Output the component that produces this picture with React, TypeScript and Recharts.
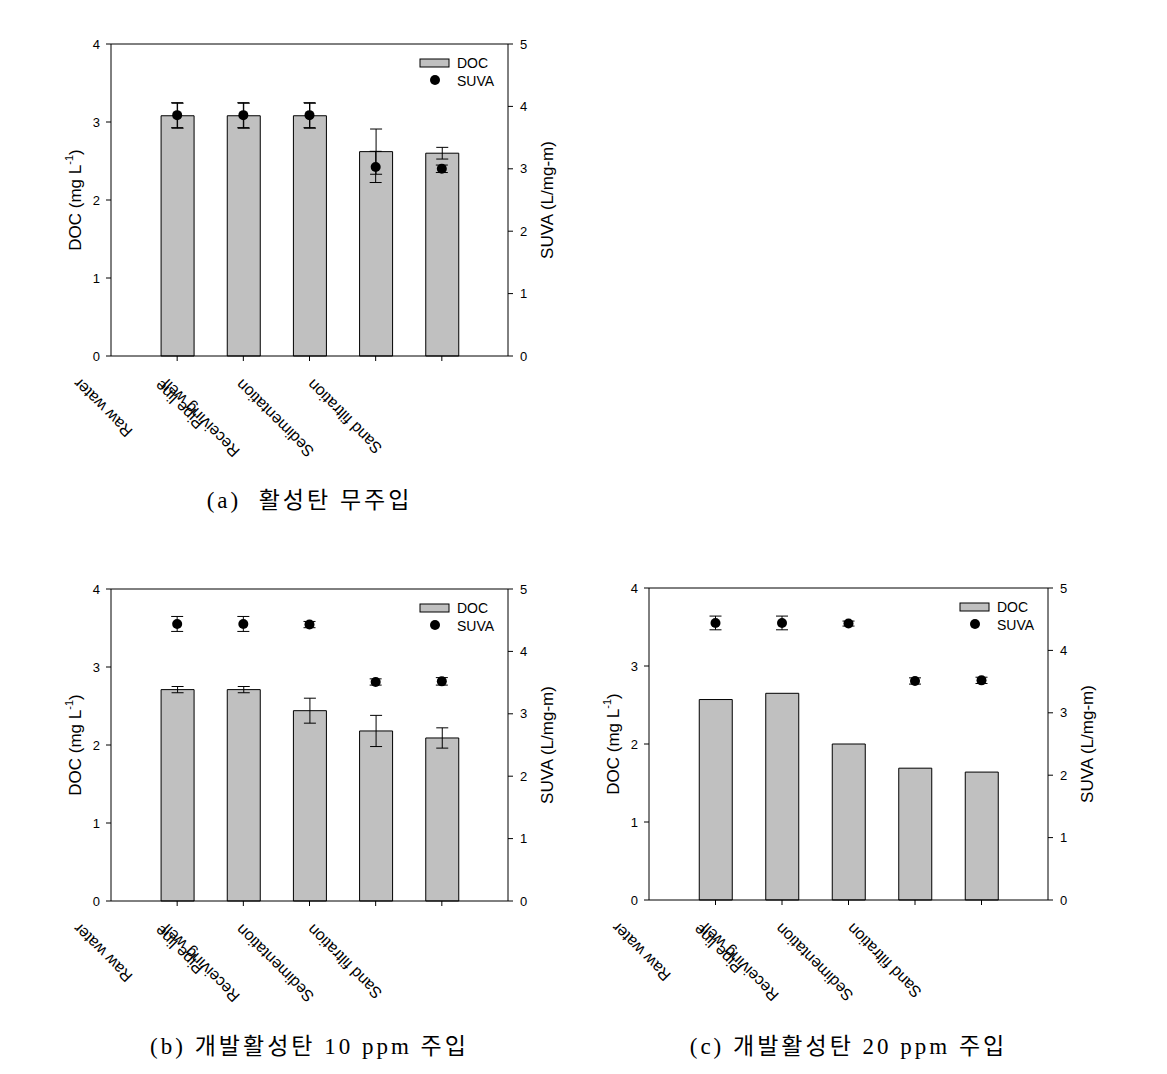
import React from "react";
import { ComposedChart, Bar, Scatter, XAxis, YAxis, ErrorBar, ReferenceLine } from "recharts";

// treatment stages (x categories)
const stages = ["Raw water", "Pipe line", "Receiving well", "Sedimentation", "Sand filtration"];

// (a) no activated carbon
const docA = [3.08, 3.08, 3.08, 2.62, 2.6];
const docErrA = [0.16, 0.16, 0.16, 0.29, 0.075];
const suvaA = [3.86, 3.86, 3.86, 3.03, 3.0];
const suvaErrA = [0.2, 0.2, 0.2, 0.25, 0.06];

// (b) developed carbon 10 ppm
const docB = [2.71, 2.71, 2.44, 2.18, 2.09];
const docErrB = [0.04, 0.04, 0.16, 0.2, 0.13];
const suvaB = [4.44, 4.44, 4.43, 3.51, 3.52];
const suvaErrB = [0.12, 0.12, 0.05, 0.05, 0.06];

// (c) developed carbon 20 ppm
const docC = [2.57, 2.65, 2.0, 1.69, 1.64];
const suvaC = [4.44, 4.44, 4.43, 3.51, 3.52];
const suvaErrC = [0.11, 0.11, 0.04, 0.05, 0.05];

const docTicks = [0, 1, 2, 3, 4];
const suvaTicks = [0, 1, 2, 3, 4, 5];
const stageTicks = [1, 2, 3, 4, 5];

const captionA = "(a)  활성탄 무주입";
const captionB = "(b) 개발활성탄 10 ppm 주입";
const captionC = "(c) 개발활성탄 20 ppm 주입";

// where each rotated label ends, relative to its tick (the source figure has them offset)
const labelShift = [-101, -86, -145, -137, -132];
const labelDrop = [20, 22, 21, 21, 21];

const FONT = '"Liberation Sans", Arial, sans-serif';
const PLOT_H = 312;
const M_LEFT = 61;
const AXIS_W = 50;

const buildRows = (doc: number[], docErr: number[] | null, suva: number[], suvaErr: number[]) =>
  stages.map((stage, i) => ({
    pos: i + 1,
    stage,
    doc: doc[i],
    docErr: docErr ? docErr[i] : 0,
    suva: suva[i],
    suvaErr: suvaErr[i],
  }));

const StageTick = (props: any) => {
  const { x, y, payload } = props;
  const i = Math.round(payload.value) - 1;
  if (i < 0 || i >= stages.length) return null;
  const tx = x + labelShift[i];
  const ty = y + labelDrop[i];
  return (
    <text
      x={tx}
      y={ty}
      transform={`rotate(-135, ${tx}, ${ty})`}
      textAnchor="end"
      dominantBaseline="central"
      fontSize={16}
      fontFamily={FONT}
      fill="#000"
    >
      {stages[i]}
    </text>
  );
};

const Dot = (props: any) => <circle cx={props.cx} cy={props.cy} r={5} fill="#000" />;

const DocTitle = (props: any) => {
  const vb = props.viewBox;
  const cx = vb.x + 14;
  const cy = vb.y + vb.height / 2;
  return (
    <text x={cx} y={cy} transform={`rotate(-90, ${cx}, ${cy})`} textAnchor="middle" dominantBaseline="central" fontSize={17} fontFamily={FONT} fill="#000">
      DOC (mg L<tspan dy={-6} fontSize={11}>-1</tspan>
      <tspan dy={6}>)</tspan>
    </text>
  );
};

const SuvaTitle = (props: any) => {
  const vb = props.viewBox;
  const cx = vb.x + 39;
  const cy = vb.y + vb.height / 2;
  return (
    <text x={cx} y={cy} transform={`rotate(-90, ${cx}, ${cy})`} textAnchor="middle" dominantBaseline="central" fontSize={17} fontFamily={FONT} fill="#000">
      SUVA (L/mg-m)
    </text>
  );
};

const LegendBox = ({ left, top }: { left: number; top: number }) => (
  <svg width={110} height={50} style={{ position: "absolute", left, top, overflow: "visible" }}>
    <rect x={0} y={15} width={29} height={8} fill="#c0c0c0" stroke="#000" strokeWidth={1} />
    <text x={37} y={19} dominantBaseline="central" fontSize={14} fontFamily={FONT}>DOC</text>
    <circle cx={15} cy={36} r={5} fill="#000" />
    <text x={37} y={37} dominantBaseline="central" fontSize={14} fontFamily={FONT}>SUVA</text>
  </svg>
);

type PanelProps = {
  left: number;
  top: number;
  plotW: number;
  rows: any[];
  showDocErr: boolean;
  caption: string;
  captionTop: number;
};

const Panel = ({ left, top, plotW, rows, showDocErr, caption, captionTop }: PanelProps) => {
  const width = M_LEFT + AXIS_W + plotW + AXIS_W + 41;
  const height = 480;
  const plotLeft = M_LEFT + AXIS_W;
  return (
    <div style={{ position: "absolute", left, top, width, height }}>
      <ComposedChart
        width={width}
        height={height}
        data={rows}
        margin={{ top: 44, right: 41, bottom: height - 44 - PLOT_H - 110, left: M_LEFT }}
      >
        <XAxis
          dataKey="pos"
          type="number"
          domain={[0, 6]}
          ticks={stageTicks}
          interval={0}
          height={110}
          tickSize={5}
          tickMargin={0}
          axisLine={{ stroke: "#000" }}
          tickLine={{ stroke: "#000" }}
          tick={<StageTick />}
        />
        <YAxis
          yAxisId="left"
          domain={[0, 4]}
          ticks={docTicks}
          width={AXIS_W}
          tickSize={5}
          tickMargin={6}
          axisLine={{ stroke: "#000" }}
          tickLine={{ stroke: "#000" }}
          tick={{ fill: "#000", fontSize: 13, fontFamily: FONT }}
          label={{ content: DocTitle }}
        />
        <YAxis
          yAxisId="right"
          orientation="right"
          domain={[0, 5]}
          ticks={suvaTicks}
          width={AXIS_W}
          tickSize={5}
          tickMargin={7}
          axisLine={{ stroke: "#000" }}
          tickLine={{ stroke: "#000" }}
          tick={{ fill: "#000", fontSize: 13, fontFamily: FONT, textAnchor: "start" }}
          label={{ content: SuvaTitle }}
        />
        <ReferenceLine yAxisId="left" y={4} stroke="#000" strokeWidth={1} />
        <Bar yAxisId="left" dataKey="doc" name="DOC" barSize={33} fill="#c0c0c0" stroke="#000" strokeWidth={1} isAnimationActive={false}>
          {showDocErr && <ErrorBar dataKey="docErr" width={6} stroke="#000" strokeWidth={1} />}
        </Bar>
        <Scatter yAxisId="right" dataKey="suva" name="SUVA" shape={<Dot />} isAnimationActive={false}>
          <ErrorBar dataKey="suvaErr" direction="y" width={6} stroke="#000" strokeWidth={1} />
        </Scatter>
      </ComposedChart>
      <LegendBox left={plotLeft + plotW - 88} top={44} />
      <div
        style={{
          position: "absolute",
          left: plotLeft - 100,
          width: plotW + 200,
          top: captionTop,
          textAlign: "center",
          fontFamily: '"Liberation Serif", "Noto Sans CJK KR", serif',
          fontSize: 23,
          letterSpacing: 3,
          whiteSpace: "pre",
          color: "#000",
        }}
      >
        {caption}
      </div>
    </div>
  );
};

export default function App() {
  return (
    <div style={{ position: "absolute", left: 0, top: 0, width: 1167, height: 1074, background: "#fff" }}>
      <Panel left={0} top={0} plotW={397} rows={buildRows(docA, docErrA, suvaA, suvaErrA)} showDocErr caption={captionA} captionTop={481} />
      <Panel left={0} top={545} plotW={397} rows={buildRows(docB, docErrB, suvaB, suvaErrB)} showDocErr caption={captionB} captionTop={482} />
      <Panel left={538} top={544} plotW={399} rows={buildRows(docC, null, suvaC, suvaErrC)} showDocErr={false} caption={captionC} captionTop={483} />
    </div>
  );
}
